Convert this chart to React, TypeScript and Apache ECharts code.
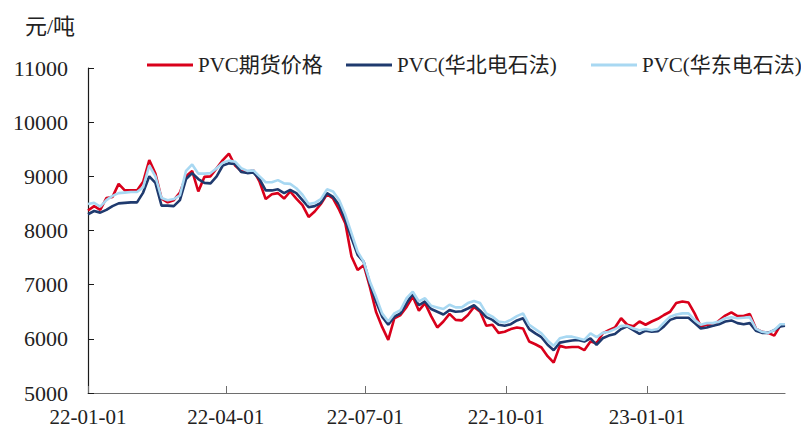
import React, { useEffect, useRef } from "react";
import * as echarts from "echarts";

const dates: string[] = [
  "2022-01-01","2022-01-05","2022-01-09","2022-01-13","2022-01-17","2022-01-21","2022-01-25","2022-01-29","2022-02-02","2022-02-06",
  "2022-02-10","2022-02-14","2022-02-18","2022-02-22","2022-02-26","2022-03-02","2022-03-06","2022-03-10","2022-03-14","2022-03-18",
  "2022-03-22","2022-03-26","2022-03-30","2022-04-03","2022-04-07","2022-04-11","2022-04-15","2022-04-19","2022-04-23","2022-04-27",
  "2022-05-01","2022-05-05","2022-05-09","2022-05-13","2022-05-17","2022-05-21","2022-05-25","2022-05-29","2022-06-02","2022-06-06",
  "2022-06-10","2022-06-14","2022-06-18","2022-06-22","2022-06-26","2022-06-30","2022-07-04","2022-07-08","2022-07-12","2022-07-16",
  "2022-07-20","2022-07-24","2022-07-28","2022-08-01","2022-08-05","2022-08-09","2022-08-13","2022-08-17","2022-08-21","2022-08-25",
  "2022-08-29","2022-09-02","2022-09-06","2022-09-10","2022-09-14","2022-09-18","2022-09-22","2022-09-26","2022-09-30","2022-10-04",
  "2022-10-08","2022-10-12","2022-10-16","2022-10-20","2022-10-24","2022-10-28","2022-11-01","2022-11-05","2022-11-09","2022-11-13",
  "2022-11-17","2022-11-21","2022-11-25","2022-11-29","2022-12-03","2022-12-07","2022-12-11","2022-12-15","2022-12-19","2022-12-23",
  "2022-12-27","2022-12-31","2023-01-04","2023-01-08","2023-01-12","2023-01-16","2023-01-20","2023-01-24","2023-01-28","2023-02-01",
  "2023-02-05","2023-02-09","2023-02-13","2023-02-17","2023-02-21","2023-02-25","2023-03-01","2023-03-05","2023-03-09","2023-03-13",
  "2023-03-17","2023-03-21","2023-03-25","2023-03-29","2023-04-01"
];

const futures: number[] = [
  8370,8450,8380,8600,8620,8860,8740,8740,8740,8900,
  9300,9050,8590,8520,8560,8700,9000,9100,8720,8990,
  9000,9150,9300,9420,9200,9100,9080,9110,8900,8580,
  8670,8690,8590,8720,8590,8470,8250,8350,8490,8670,
  8590,8380,8130,7520,7270,7360,6960,6500,6220,5980,
  6380,6440,6590,6780,6520,6660,6420,6210,6320,6460,
  6350,6340,6440,6590,6500,6240,6260,6110,6130,6180,
  6210,6190,5950,5900,5840,5680,5560,5870,5840,5850,
  5850,5790,5950,5920,6100,6160,6210,6380,6260,6230,
  6320,6260,6320,6370,6440,6500,6660,6690,6670,6470,
  6230,6260,6240,6340,6430,6490,6420,6420,6460,6190,
  6130,6110,6060,6250,6260
];

const northChina: number[] = [
  8300,8360,8330,8380,8450,8500,8510,8520,8520,8700,
  9000,8880,8460,8460,8450,8560,8950,9060,8950,8880,
  8870,9000,9200,9240,9230,9080,9060,9070,8950,8740,
  8740,8760,8690,8750,8690,8560,8430,8450,8510,8690,
  8620,8470,8190,7860,7550,7420,7020,6690,6410,6260,
  6410,6470,6660,6830,6620,6690,6550,6500,6450,6530,
  6500,6510,6560,6620,6520,6400,6350,6260,6240,6270,
  6340,6380,6180,6100,6030,5890,5790,5930,5950,5970,
  5980,5950,6010,5890,6010,6060,6090,6180,6230,6160,
  6090,6150,6130,6140,6230,6350,6390,6390,6390,6290,
  6190,6210,6240,6270,6320,6340,6290,6270,6290,6150,
  6110,6110,6160,6230,6240
];

const eastChina: number[] = [
  8490,8510,8440,8560,8640,8690,8700,8710,8710,8800,
  9200,9000,8600,8560,8580,8650,9100,9220,9050,9050,
  9060,9150,9250,9290,9270,9150,9100,9110,9000,8890,
  8890,8930,8870,8860,8780,8660,8490,8510,8580,8760,
  8720,8560,8290,7950,7610,7420,7060,6780,6470,6320,
  6470,6530,6750,6870,6690,6750,6610,6580,6550,6630,
  6580,6580,6660,6700,6660,6470,6410,6320,6300,6350,
  6420,6470,6260,6180,6100,5970,5870,6010,6040,6040,
  6010,5980,6100,6030,6110,6130,6180,6240,6240,6190,
  6160,6180,6160,6180,6300,6410,6450,6470,6470,6350,
  6260,6290,6290,6320,6380,6400,6380,6390,6400,6190,
  6130,6110,6160,6270,6270
];

const seriesNames: string[] = ["PVC期货价格", "PVC(华北电石法)", "PVC(华东电石法)"];
const tickDates: string[] = ["2022-01-01", "2022-04-01", "2022-07-01", "2022-10-01", "2023-01-01"];
const xMin = "2022-01-01";
const xMax = "2023-04-01";
const yMin = 5000;
const yMax = 11000;
const yStep = 1000;
const unitLabel = "元/吨";

const toTime = (s: string) => {
  const [y, m, d] = s.split("-").map(Number);
  return new Date(y, m - 1, d).getTime();
};
const pad = (n: number) => (n < 10 ? "0" + n : "" + n);

const FONT = "'Liberation Serif', 'Noto Sans CJK SC', serif";
const colors = ["#D9001B", "#1F3A6E", "#A8D8F2"];

export default function App() {
  const ref = useRef<HTMLDivElement>(null);
  useEffect(() => {
    if (!ref.current) return;
    const chart = echarts.init(ref.current, null, { renderer: "svg" });
    const seriesData = [futures, northChina, eastChina];
    const tickValues = tickDates.map(toTime);
    const legendLefts = [142, 341, 586];
    const option: any = {
      animation: false,
      backgroundColor: "#ffffff",
      grid: { left: 88, right: 16, top: 68, bottom: 35, outerBoundsMode: "none" },
      graphic: [
        {
          type: "text",
          left: 25,
          top: 15,
          style: { text: unitLabel, fontSize: 22, fontFamily: FONT, fill: "#222" },
        },
      ],
      legend: seriesNames.map((name, i) => ({
        data: [name],
        left: legendLefts[i],
        top: 49,
        icon: "rect",
        itemWidth: 46,
        itemHeight: 3,
        itemGap: 0,
        textStyle: { fontSize: 21, fontFamily: FONT, color: "#222", lineHeight: 22 },
      })),
      xAxis: {
        type: "value",
        min: toTime(xMin),
        max: toTime(xMax),
        scale: true,
        axisLine: { show: true, lineStyle: { color: "#6e6e6e", width: 1.2 } },
        axisTick: {
          show: true,
          inside: true,
          length: 7,
          customValues: tickValues,
          lineStyle: { color: "#6e6e6e" },
        },
        axisLabel: {
          customValues: tickValues,
          margin: 15,
          fontSize: 21,
          lineHeight: 18,
          fontFamily: FONT,
          color: "#222",
          formatter: (v: number) => {
            const d = new Date(v);
            return pad(d.getFullYear() % 100) + "-" + pad(d.getMonth() + 1) + "-" + pad(d.getDate());
          },
        },
        splitLine: { show: false },
      },
      yAxis: {
        type: "value",
        min: yMin,
        max: yMax,
        interval: yStep,
        axisLine: { show: true, lineStyle: { color: "#1a1a1a", width: 1.2 } },
        axisTick: { show: true, inside: true, length: 6, lineStyle: { color: "#1a1a1a" } },
        axisLabel: {
          margin: 20,
          fontSize: 22,
          fontFamily: FONT,
          color: "#222",
          formatter: (v: number) => String(v),
        },
        splitLine: { show: false },
      },
      series: seriesNames.map((name, i) => ({
        name,
        type: "line",
        showSymbol: false,
        symbol: "none",
        color: colors[i],
        lineStyle: { width: 2.6, color: colors[i] },
        data: dates.map((d, j) => [toTime(d), seriesData[i][j]]),
      })),
    };
    chart.setOption(option);
    return () => chart.dispose();
  }, []);
  return (
    <div
      ref={ref}
      style={{ position: "fixed", left: 0, top: 0, width: 801, height: 428, background: "#fff" }}
    />
  );
}
